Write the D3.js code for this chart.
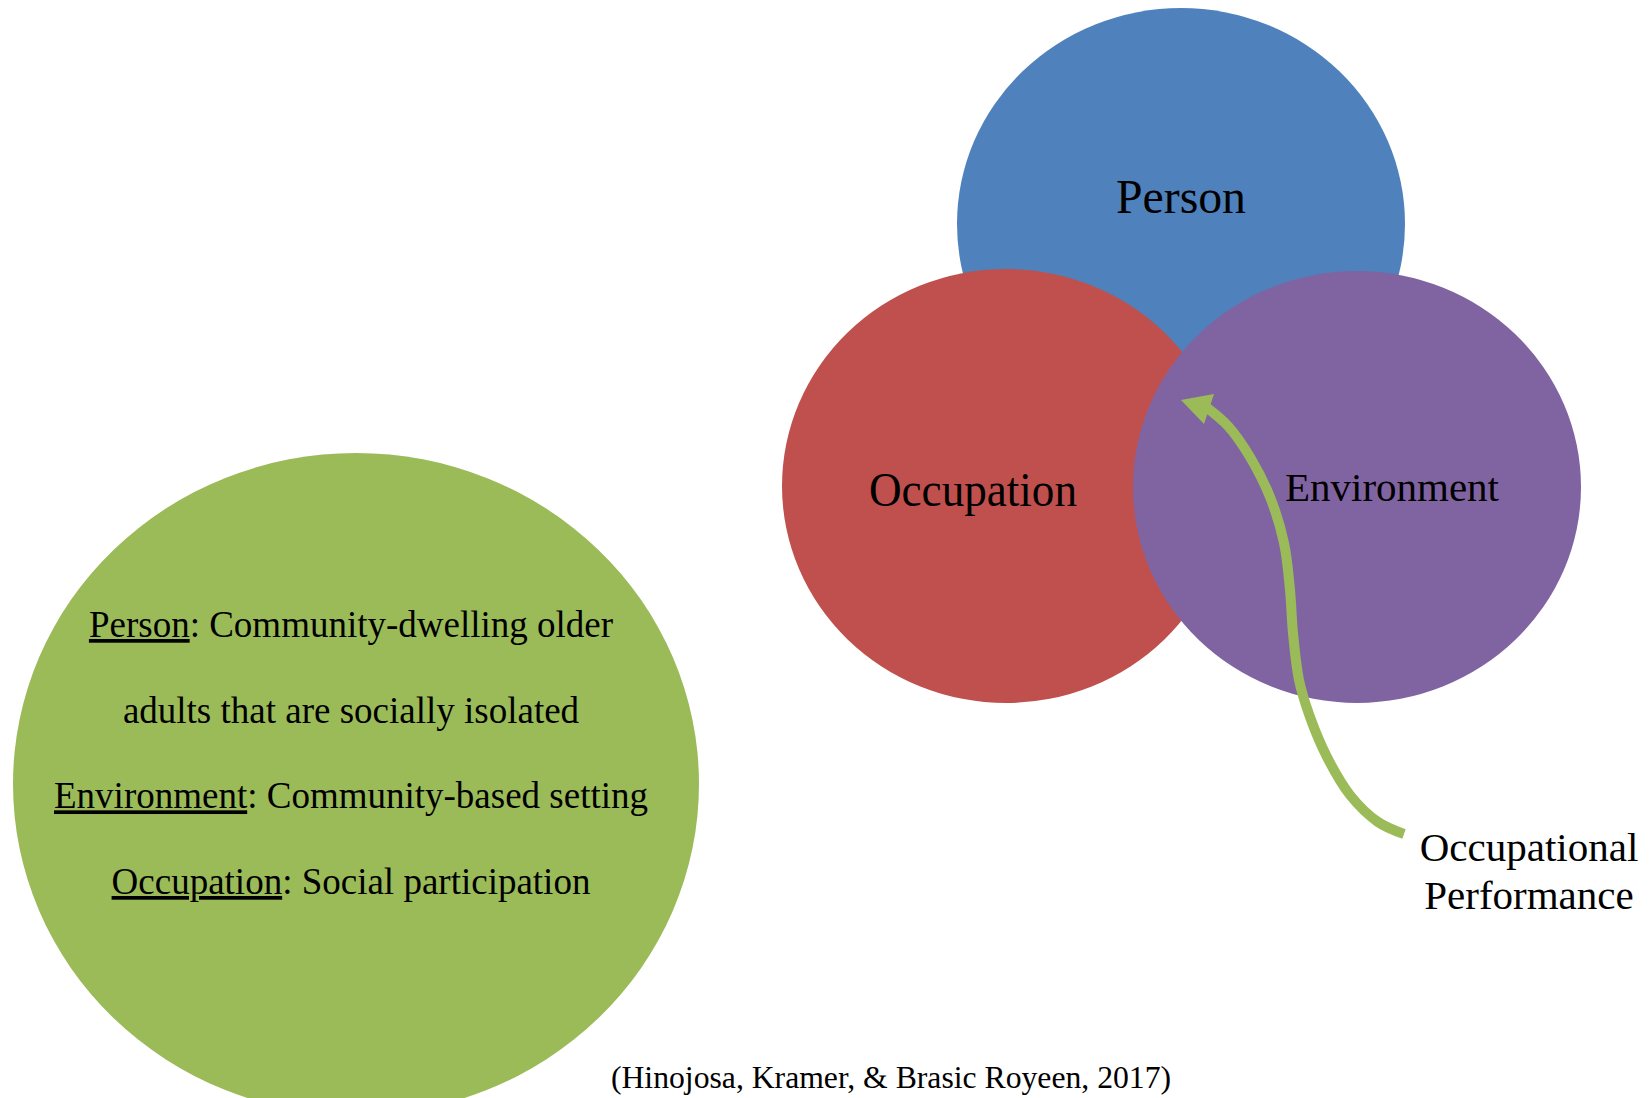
<!DOCTYPE html>
<html><head><meta charset="utf-8">
<script src="https://cdn.jsdelivr.net/npm/d3@7"></script>
<style>html,body{margin:0;padding:0;background:#fff;}svg{display:block;}</style>
</head><body>
<div id="chart"></div>
<script>
// ---- data ----
const circleNames = ["Person", "Occupation", "Environment"];
const summaryLabels = ["Person", "", "Environment", "Occupation"];
const summaryTexts = [": Community-dwelling older", "adults that are socially isolated", ": Community-based setting", ": Social participation"];
const arrowLabel = ["Occupational", "Performance"];
const citation = "(Hinojosa, Kramer, & Brasic Royeen, 2017)";

// ---- layout / style ----
const W = 1652, H = 1098;
const FONT = "'Liberation Serif','Times New Roman',serif";
const colors = {Person: "#4F81BD", Occupation: "#C0504D", Environment: "#8064A2", green: "#9BBB59"};
const ellipses = {
  Person:      {cx: 1181, cy: 224, rx: 224, ry: 216},
  Occupation:  {cx: 1006, cy: 486, rx: 224, ry: 217},
  Environment: {cx: 1357, cy: 487, rx: 224, ry: 216}
};
const labelPos = {
  Person:      {x: 1181, y: 213, size: 48, len: 130},
  Occupation:  {x: 973,  y: 506, size: 48, len: 208},
  Environment: {x: 1392, y: 501, size: 41, len: 214}
};

const svg = d3.select("#chart").append("svg").attr("width", W).attr("height", H);

// green summary ellipse
svg.append("ellipse").attr("cx", 356).attr("cy", 784).attr("rx", 343).attr("ry", 331)
  .attr("fill", colors.green);

// three PEO ellipses
svg.selectAll("ellipse.peo").data(circleNames).join("ellipse")
  .attr("class", "peo")
  .attr("cx", d => ellipses[d].cx).attr("cy", d => ellipses[d].cy)
  .attr("rx", d => ellipses[d].rx).attr("ry", d => ellipses[d].ry)
  .attr("fill", d => colors[d]);

// labels
svg.selectAll("text.peo").data(circleNames).join("text")
  .attr("class", "peo")
  .attr("x", d => labelPos[d].x).attr("y", d => labelPos[d].y)
  .attr("text-anchor", "middle")
  .attr("font-family", FONT).attr("font-size", d => labelPos[d].size)
  .attr("textLength", d => labelPos[d].len).attr("lengthAdjust", "spacingAndGlyphs")
  .attr("fill", "#000")
  .text(d => d);

// summary text lines
const lineY = d3.scaleLinear().domain([0, 3]).range([637, 894]);
const st = svg.selectAll("text.sum").data(summaryTexts).join("text")
  .attr("class", "sum")
  .attr("x", 351).attr("y", (d, i) => lineY(i))
  .attr("text-anchor", "middle")
  .attr("font-family", FONT).attr("font-size", 37).attr("fill", "#000");
st.each(function(d, i) {
  const t = d3.select(this);
  if (summaryLabels[i]) t.append("tspan").style("text-decoration", "underline").text(summaryLabels[i]);
  t.append("tspan").text(d);
});

// arrow
const arrowPts = [[1404,834],[1378,822],[1350,795],[1327,757],[1310,717],[1299,680],[1293,633],[1290,590],[1284,543],[1270,497],[1250,457],[1228,426],[1206,407]];
svg.append("path").attr("d", d3.line().curve(d3.curveCatmullRom.alpha(0.5))(arrowPts))
  .attr("fill", "none").attr("stroke", colors.green).attr("stroke-width", 10);
svg.append("path").attr("d", "M1181,400L1214,394L1204,424Z").attr("fill", colors.green);

// arrow label
svg.selectAll("text.al").data(arrowLabel).join("text")
  .attr("class", "al")
  .attr("x", 1529).attr("y", (d, i) => 861 + i * 48)
  .attr("text-anchor", "middle")
  .attr("font-family", FONT).attr("font-size", 41).attr("fill", "#000")
  .text(d => d);

// citation
svg.append("text").attr("x", 891).attr("y", 1088).attr("text-anchor", "middle")
  .attr("font-family", FONT).attr("font-size", 31.7).attr("fill", "#000")
  .text(citation);
</script>
</body></html>
